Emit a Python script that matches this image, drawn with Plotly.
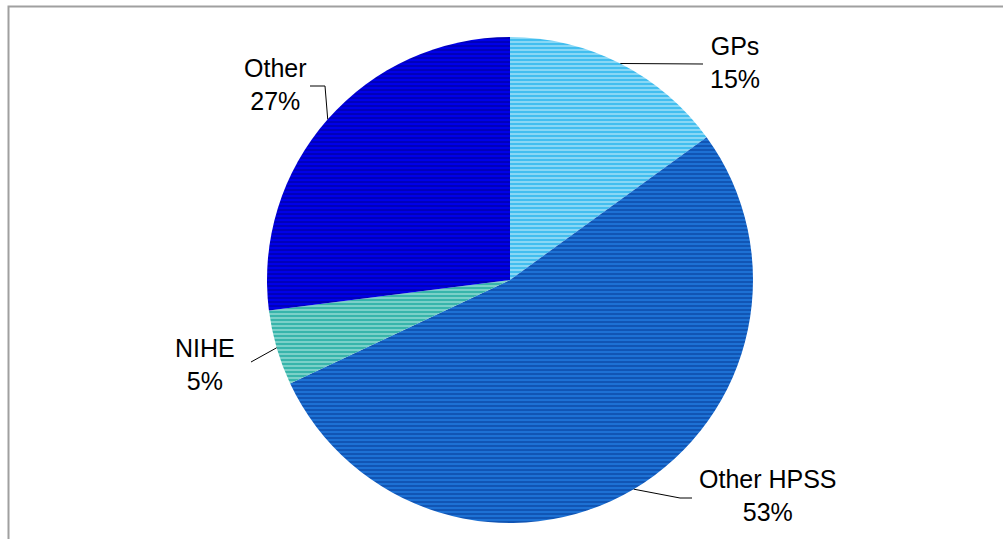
import math
import plotly.graph_objects as go

labels = ["GPs", "Other HPSS", "NIHE", "Other"]
values = [15, 53, 5, 27]
base_colors = ["#3ABCEE", "#1E74D8", "#30B2A8", "#0000EC"]
stripe_colors = ["#D6F1FC", "#03358F", "#C4EEE8", "#000088"]

W, H = 1003, 539
CX, CY, R = 510, 280, 243

def px(x):
    return x / W

def py(y):
    return 1 - y / H

fig = go.Figure()
fig.add_trace(go.Pie(
    labels=labels,
    values=values,
    sort=False,
    direction="clockwise",
    rotation=0,
    textinfo="none",
    hoverinfo="label+percent",
    showlegend=False,
    marker=dict(
        colors=base_colors,
        line=dict(width=0),
        pattern=dict(shape="-", fgcolor=stripe_colors, fillmode="overlay",
                     size=4, solidity=0.55),
    ),
    domain=dict(x=[px(CX - R), px(CX + R)], y=[py(CY + R), py(CY - R)]),
))

label_layout = {
    "GPs": dict(knee=None, end=(703, 64), text=(735, 62)),
    "Other HPSS": dict(knee=(680, 498), end=(692, 498), text=(768, 495)),
    "NIHE": dict(knee=None, end=(251, 362), text=(205, 364)),
    "Other": dict(knee=(325, 86), end=(310, 86), text=(275, 84)),
}

shapes = [dict(type="rect", xref="paper", yref="paper",
               x0=px(8.5), x1=1.02, y0=-0.02, y1=py(6.5),
               line=dict(color="#A0A0A0", width=2), fillcolor="rgba(0,0,0,0)")]
annotations = []
total = sum(values)
cum = 0
for lab, v in zip(labels, values):
    mid = (cum + v / 2) / total * 2 * math.pi
    cum += v
    ex = CX + R * math.sin(mid)
    ey = CY - R * math.cos(mid)
    ly = label_layout[lab]
    pts = [(ex, ey)]
    if ly["knee"]:
        pts.append(ly["knee"])
    pts.append(ly["end"])
    path = "M " + " L ".join(f"{px(a)},{py(b)}" for a, b in pts)
    shapes.append(dict(type="path", xref="paper", yref="paper", path=path,
                       line=dict(color="black", width=1)))
    tx, ty = ly["text"]
    annotations.append(dict(
        x=px(tx), y=py(ty), xref="paper", yref="paper",
        text=f"{lab}<br>{v}%", showarrow=False, align="center",
        xanchor="center", yanchor="middle",
        font=dict(family="Liberation Sans, Arial, sans-serif", size=25, color="black"),
    ))

fig.update_layout(
    width=W, height=H,
    margin=dict(l=0, r=0, t=0, b=0),
    paper_bgcolor="white",
    plot_bgcolor="white",
    shapes=shapes,
    annotations=annotations,
)

fig.write_html("out.html",
               config={"displayModeBar": False},
               post_script="document.body.style.margin='0';document.body.style.overflow='hidden';")
